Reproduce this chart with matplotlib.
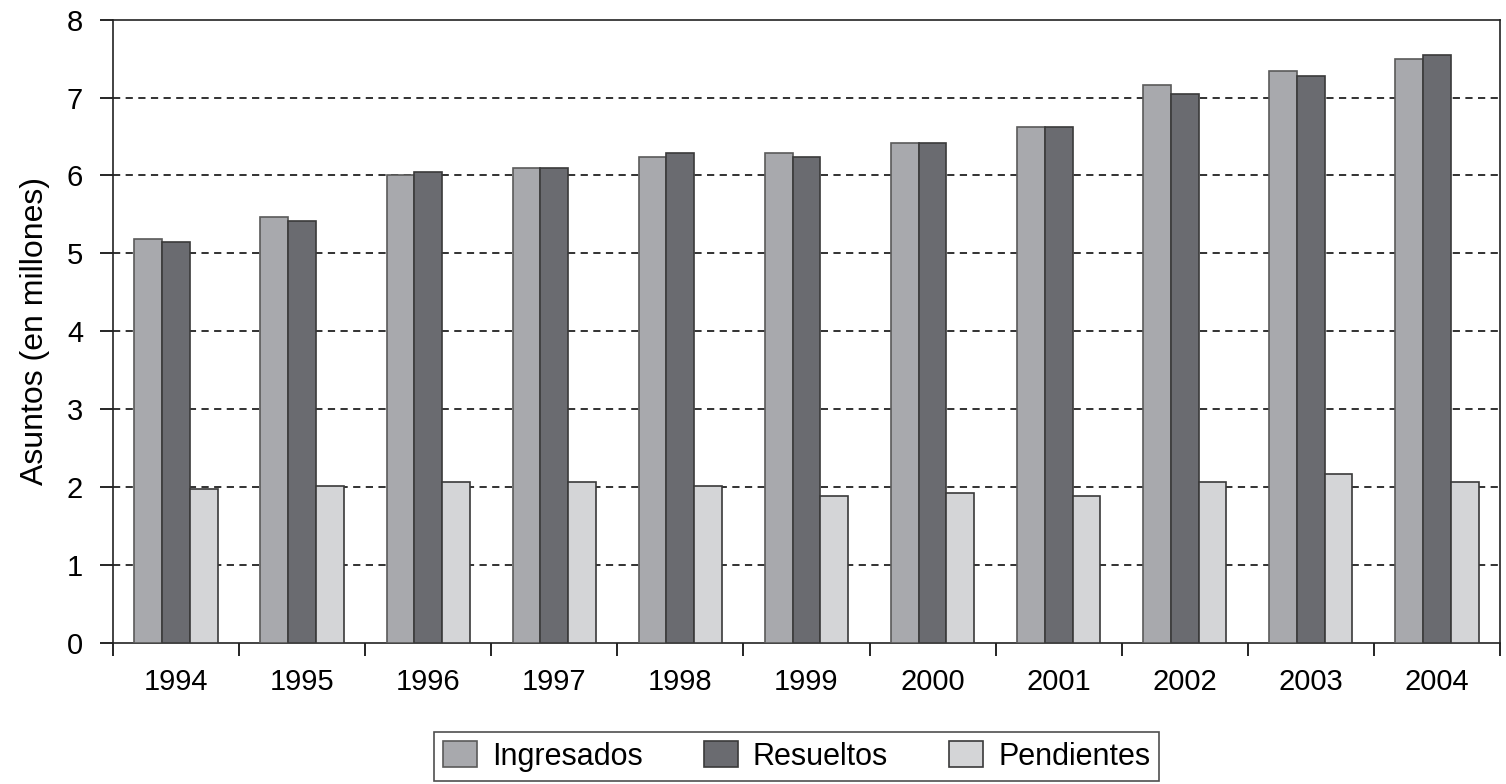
import numpy as np
import matplotlib.pyplot as plt

# Datos (millones de asuntos)
anios = ['1994', '1995', '1996', '1997', '1998', '1999', '2000', '2001', '2002', '2003', '2004']
ingresados = [5.18, 5.47, 6.00, 6.10, 6.24, 6.29, 6.42, 6.62, 7.16, 7.34, 7.50]
resueltos = [5.14, 5.42, 6.05, 6.10, 6.29, 6.24, 6.42, 6.62, 7.05, 7.28, 7.55]
pendientes = [1.97, 2.02, 2.07, 2.07, 2.02, 1.88, 1.93, 1.88, 2.07, 2.17, 2.07]

plt.rcParams['font.family'] = ['Liberation Sans', 'DejaVu Sans']

fig = plt.figure(figsize=(15.06, 7.84), dpi=100)
ax = fig.add_axes([0.075, 0.18, 0.921, 0.795])

x = np.arange(len(anios))
ancho = 0.22
ax.bar(x - ancho, ingresados, ancho, color='#a8a9ad', edgecolor='#5a5a5a', linewidth=1.2, label='Ingresados', zorder=3)
ax.bar(x, resueltos, ancho, color='#6a6b70', edgecolor='#3a3a3a', linewidth=1.2, label='Resueltos', zorder=3)
ax.bar(x + ancho, pendientes, ancho, color='#d4d5d7', edgecolor='#3a3a3a', linewidth=1.2, label='Pendientes', zorder=3)

ax.set_ylim(0, 8)
ax.set_xlim(-0.5, len(anios) - 0.5)
ax.set_yticks(range(0, 9))
ax.set_xticks(x)
ax.set_xticklabels(anios)
ax.set_xticks(np.arange(-0.5, len(anios)), minor=True)
ax.tick_params(axis='x', which='major', length=0, pad=18, labelsize=21)
ax.tick_params(axis='x', which='minor', length=9, width=1.2, direction='out')
ax.tick_params(axis='y', length=9.5, width=1.2, direction='out', labelsize=21, pad=12)

for y in range(1, 8):
    ax.axhline(y, color='#222222', linestyle=(0, (4, 3)), linewidth=1.3, zorder=1)

for s in ax.spines.values():
    s.set_linewidth(1.2)
    s.set_color('#222222')

ax.set_ylabel('Asuntos (en millones)', fontsize=23, labelpad=12)

leg = fig.legend(loc='center', bbox_to_anchor=(0.529, 0.035), ncol=3, frameon=True,
                 fancybox=False, edgecolor='#222222', fontsize=22,
                 handlelength=1.1, handleheight=0.9, columnspacing=2.0, handletextpad=0.5,
                 borderpad=0.3, borderaxespad=0.3)
leg.get_frame().set_linewidth(1.2)

fig.savefig('out.png', dpi=100)
